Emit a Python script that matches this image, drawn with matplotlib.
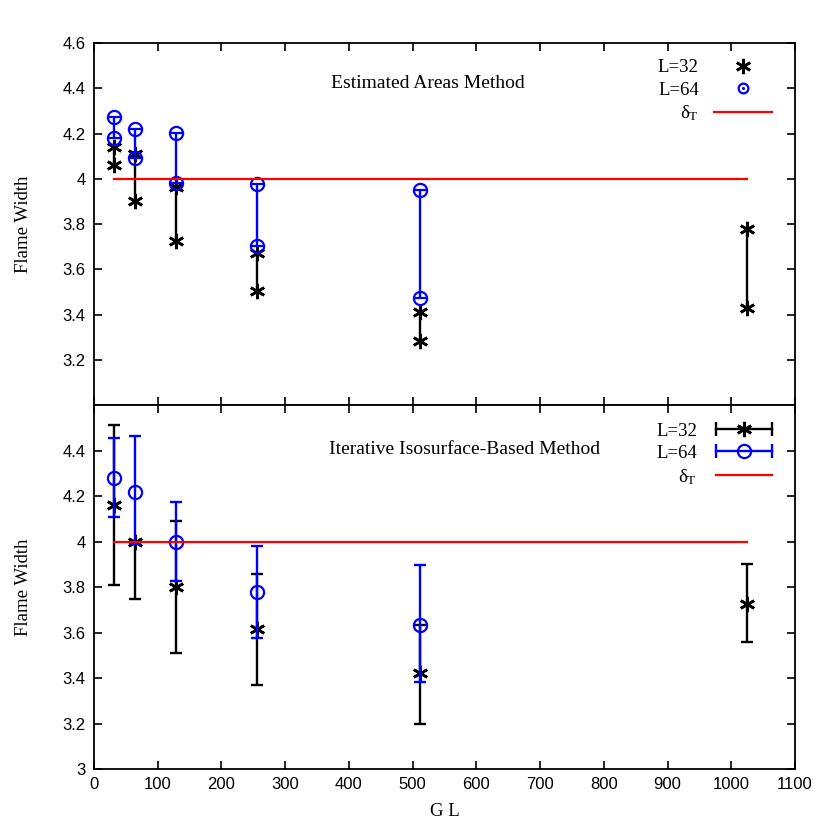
import matplotlib
matplotlib.use('Agg')
import matplotlib.pyplot as plt
from matplotlib.lines import Line2D
from matplotlib.legend_handler import HandlerLine2D
import numpy as np

# --- data ---------------------------------------------------------------
gl = [32, 64, 128, 256, 512]
gl32 = [32, 64, 128, 256, 512, 1024]

# top panel: Estimated Areas Method (two estimates per GL)
top_l32_a = [4.14, 4.11, 3.962, 3.673, 3.412, 3.776]
top_l32_b = [4.06, 3.903, 3.727, 3.505, 3.285, 3.429]
top_l64_a = [4.274, 4.22, 4.204, 3.977, 3.949]
top_l64_b = [4.18, 4.09, 3.982, 3.703, 3.471]

# bottom panel: Iterative Isosurface-Based Method (value, low, high)
bot_l32 = [4.16, 3.997, 3.80, 3.615, 3.423, 3.726]
bot_l32_lo = [3.811, 3.748, 3.509, 3.371, 3.199, 3.559]
bot_l32_hi = [4.514, 3.997, 4.092, 3.859, 3.635, 3.899]
bot_l64 = [4.28, 4.218, 4.0, 3.777, 3.635]
bot_l64_lo = [4.107, 3.99, 3.825, 3.577, 3.383]
bot_l64_hi = [4.453, 4.463, 4.175, 3.98, 3.895]

delta_x = [32, 1024]
delta_y = [4.0, 4.0]

xticks = list(range(0, 1101, 100))
top_yticks = [3.2, 3.4, 3.6, 3.8, 4.0, 4.2, 4.4, 4.6]
top_ylabels = ['3.2', '3.4', '3.6', '3.8', '4', '4.2', '4.4', '4.6']
bot_yticks = [3.0, 3.2, 3.4, 3.6, 3.8, 4.0, 4.2, 4.4]
bot_ylabels = ['3', '3.2', '3.4', '3.6', '3.8', '4', '4.2', '4.4']

# --- style --------------------------------------------------------------
serif = 'Liberation Serif'
sans = 'Liberation Sans'
txt = 13.5
ast = (6, 2, 0)
ms_ast = 11
mew_ast = 1.9
ms_circ = 9.5

fig = plt.figure(figsize=(8.3, 8.3), dpi=100)
axTop = fig.add_axes([0.1133, 0.512, 0.8445, 0.4362])
axBot = fig.add_axes([0.1133, 0.0735, 0.8445, 0.4385], sharex=axTop)

for ax in (axTop, axBot):
    ax.set_xlim(0, 1100)
    ax.set_ylim(3.0, 4.6)
    ax.set_xticks(xticks)
    ax.tick_params(direction='in', length=6, width=1.2, top=True, right=True,
                   labelsize=12, pad=6)
    for s in ax.spines.values():
        s.set_linewidth(1.3)
    ax.set_ylabel('Flame Width', fontfamily=serif, fontsize=txt, labelpad=22)

axTop.tick_params(labelbottom=False)
axTop.set_yticks(top_yticks)
axTop.set_yticklabels(top_ylabels, fontfamily=sans)
axBot.set_yticks(bot_yticks)
axBot.set_yticklabels(bot_ylabels, fontfamily=sans)
axBot.set_xticklabels([str(v) for v in xticks], fontfamily=sans)
axBot.set_xlabel('G L', fontfamily=serif, fontsize=txt, labelpad=8)

# --- top panel ----------------------------------------------------------
axTop.vlines(gl32, top_l32_b, top_l32_a, color='black', lw=1.7)
axTop.plot(gl32, top_l32_a, ls='none', marker=ast, ms=ms_ast, mew=mew_ast, color='black')
axTop.plot(gl32, top_l32_b, ls='none', marker=ast, ms=ms_ast, mew=mew_ast, color='black')

axTop.vlines(gl, top_l64_b, top_l64_a, color='blue', lw=1.7)
for vals in (top_l64_a, top_l64_b):
    axTop.plot(gl, vals, ls='none', marker='o', ms=ms_circ, mfc='none', mec='blue', mew=1.6)
    axTop.plot(gl, vals, ls='none', marker='_', ms=ms_circ, mec='blue', mew=1.6)

axTop.plot(delta_x, delta_y, color='red', lw=1.6)

axTop.text(0.4765, 0.889, 'Estimated Areas Method', transform=axTop.transAxes,
           ha='center', va='center', fontfamily=serif, fontsize=14)

h32 = Line2D([], [], ls='none', marker=ast, ms=ms_ast, mew=mew_ast, color='black')
h64c = Line2D([], [], ls='none', marker='o', ms=7, mfc='none', mec='blue', mew=1.6)
h64d = Line2D([], [], ls='none', marker='.', ms=2.5, color='blue')
hdel = Line2D([], [], color='red', lw=1.6)
axTop.legend([h32, (h64c, h64d), hdel], ['L=32', 'L=64', r'$\mathregular{\delta_T}$'],
             loc='upper right', bbox_to_anchor=(0.967, 0.955), frameon=False,
             markerfirst=False, handlelength=3.1, handletextpad=0.8,
             labelspacing=0.27, prop={'family': serif, 'size': txt},
             borderpad=0, borderaxespad=0)

# --- bottom panel -------------------------------------------------------
err32 = [np.subtract(bot_l32, bot_l32_lo), np.subtract(bot_l32_hi, bot_l32)]
axBot.errorbar(gl32, bot_l32, yerr=err32, fmt='none', ecolor='black',
               elinewidth=1.7, capsize=4.3, capthick=1.7)
axBot.plot(gl32, bot_l32, ls='none', marker=ast, ms=ms_ast, mew=mew_ast, color='black')

err64 = [np.subtract(bot_l64, bot_l64_lo), np.subtract(bot_l64_hi, bot_l64)]
axBot.errorbar(gl, bot_l64, yerr=err64, fmt='none', ecolor='blue',
               elinewidth=1.7, capsize=4.3, capthick=1.7)
axBot.plot(gl, bot_l64, ls='none', marker='o', ms=ms_circ, mfc='none', mec='blue', mew=1.6)

axBot.plot(delta_x, delta_y, color='red', lw=1.6)

axBot.text(0.529, 0.879, 'Iterative Isosurface-Based Method', transform=axBot.transAxes,
           ha='center', va='center', fontfamily=serif, fontsize=14)

cap32 = Line2D([], [], color='black', lw=1.7, marker='|', ms=10, mew=1.7)
mk32 = Line2D([], [], ls='none', marker=ast, ms=ms_ast, mew=mew_ast, color='black')
cap64 = Line2D([], [], color='blue', lw=1.7, marker='|', ms=10, mew=1.7)
mk64 = Line2D([], [], ls='none', marker='o', ms=ms_circ, mfc='none', mec='blue', mew=1.6)
hdel2 = Line2D([], [], color='red', lw=1.6)
hmap = {cap32: HandlerLine2D(numpoints=2), cap64: HandlerLine2D(numpoints=2),
        mk32: HandlerLine2D(numpoints=1), mk64: HandlerLine2D(numpoints=1),
        hdel2: HandlerLine2D(numpoints=2)}
axBot.legend([(cap32, mk32), (cap64, mk64), hdel2],
             ['L=32', 'L=64', r'$\mathregular{\delta_T}$'],
             handler_map=hmap, loc='upper right', bbox_to_anchor=(0.9755, 0.952),
             frameon=False, markerfirst=False, handlelength=3.6, handletextpad=0.7,
             labelspacing=0.27, prop={'family': serif, 'size': txt},
             borderpad=0, borderaxespad=0)

fig.savefig('out.png', dpi=100)
plt.close(fig)
